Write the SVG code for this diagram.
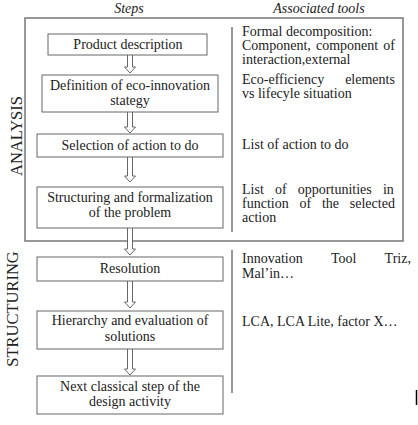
<svg xmlns="http://www.w3.org/2000/svg" width="418" height="425" viewBox="0 0 418 425">
<style>
text{font-family:"Liberation Serif","Times New Roman",serif;font-size:14px;fill:#222}
.hd{font-style:italic;text-anchor:middle}
.c{text-anchor:middle}
.box{fill:#fff;stroke:#666;stroke-width:1}
.frame{fill:none;stroke:#777;stroke-width:1.5}
.div{stroke:#777;stroke-width:1.5}
.arr{fill:#fff;stroke:#666;stroke-width:1}
.side{font-size:16.5px;text-anchor:middle}
</style>
<rect width="418" height="425" fill="#fff"/>
<text class="hd" x="129" y="13">Steps</text>
<text class="hd" x="319" y="13">Associated tools</text>
<rect class="frame" x="25" y="18" width="378" height="223"/>
<line class="div" x1="232" y1="27" x2="232" y2="232"/>
<line class="div" x1="232" y1="250" x2="232" y2="393"/>
<text class="side" transform="translate(22,136) rotate(-90)">ANALYSIS</text>
<text class="side" transform="translate(18,309) rotate(-90)">STRUCTURING</text>
<g id="connectors">
<path class="arr" d="M127.5,55 V67 H124.5 L130,73 L135.5,67 H132.5 V55"/>
<path class="arr" d="M127.5,112 V127 H124.5 L130,133 L135.5,127 H132.5 V112"/>
<path class="arr" d="M127.5,157 V176 H124.5 L130,182 L135.5,176 H132.5 V157"/>
<path class="arr" d="M127.5,228 V249 H124.5 L130,255 L135.5,249 H132.5 V228"/>
<path class="arr" d="M127.5,281 V302 H124.5 L130,308 L135.5,302 H132.5 V281"/>
<path class="arr" d="M127.5,349 V369 H124.5 L130,375 L135.5,369 H132.5 V349"/>
</g>
<g id="n1"><rect class="box" x="48" y="34" width="159" height="21"/><text class="c" x="128" y="49">Product description</text></g>
<g id="n2"><rect class="box" x="42" y="75" width="176" height="37"/><text class="c" x="130" y="90">Definition of eco-innovation</text><text class="c" x="130" y="105">stategy</text></g>
<g id="n3"><rect class="box" x="37" y="134" width="186" height="23"/><text class="c" x="130" y="150">Selection of action to do</text></g>
<g id="n4"><rect class="box" x="37" y="187" width="186" height="41"/><text class="c" x="130" y="202">Structuring and formalization</text><text class="c" x="130" y="217">of the problem</text></g>
<g id="n5"><rect class="box" x="37" y="257" width="186" height="24"/><text class="c" x="130" y="273">Resolution</text></g>
<g id="n6"><rect class="box" x="37" y="311" width="186" height="38"/><text class="c" x="130" y="325">Hierarchy and evaluation of</text><text class="c" x="130" y="341">solutions</text></g>
<g id="n7"><rect class="box" x="37" y="376" width="186" height="38"/><text class="c" x="130" y="391">Next classical step of the</text><text class="c" x="130" y="406">design activity</text></g>
<g id="tools">
<text x="242" y="36">Formal decomposition:</text>
<text x="242" y="50" word-spacing="1.6">Component, component of</text>
<text x="242" y="64">interaction,external</text>
<text x="242" y="84" word-spacing="17.5">Eco-efficiency elements</text>
<text x="242" y="98">vs lifecyle situation</text>
<text x="242" y="149">List of action to do</text>
<text x="242" y="194" word-spacing="7.7">List of opportunities in</text>
<text x="242" y="208" word-spacing="7.3">function of the selected</text>
<text x="242" y="222">action</text>
<text x="242" y="263" word-spacing="25">Innovation Tool Triz,</text>
<text x="242" y="278">Mal’in…</text>
<text x="242" y="326">LCA, LCA Lite, factor X…</text>
</g>
<line x1="416.5" y1="390" x2="416.5" y2="405" stroke="#000" stroke-width="1.5"/>
</svg>
